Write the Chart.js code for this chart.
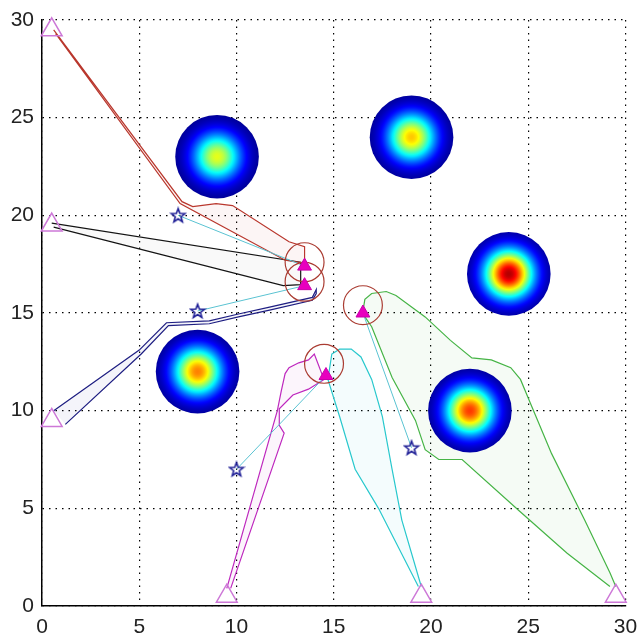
<!DOCTYPE html>
<html>
<head>
<meta charset="utf-8">
<script src="https://cdn.jsdelivr.net/npm/chart.js@4.4.0/dist/chart.umd.min.js"></script>
<style>
  html, body { margin: 0; padding: 0; background: #fff; }
  #wrap { width: 639px; height: 640px; }
</style>
</head>
<body>
<div id="wrap"><canvas id="chart"></canvas></div>
<script>
// axis
const axisTicks = [0, 5, 10, 15, 20, 25, 30];

// gaussian blobs (centre, peak level on jet scale)
const blobX = [9, 19, 24, 8, 22];
const blobY = [23, 24, 17, 12, 10];
const blobPeak = [0.6, 0.68, 0.95, 0.75, 0.82];
const BLOB_R = 2.15;   // data units

// start markers (open triangles)
const startX = [0.5, 0.5, 0.5, 9.5, 19.5, 29.5];
const startY = [29.5, 19.5, 9.5, 0.5, 0.5, 0.5];

// goal markers (filled triangles) and rings round them
const targetX = [13.5, 13.5, 16.5, 14.6];
const targetY = [17.4, 16.4, 15.0, 11.8];
const ringX = [13.5, 13.5, 16.5, 14.5];
const ringY = [17.6, 16.6, 15.4, 12.4];
const RING_R = 1;      // data units

// stars and the goal each one is tied to
const starX = [7, 8, 10, 19];
const starY = [20, 15.1, 7, 8.1];
const starGoal = [0, 1, 3, 2];

// path bands (closed outlines)
const redX = [0.6, 7.2, 7.75, 8.95, 9.8, 12.7, 13.5, 13.5, 12.5, 7.1, 0.7];
const redY = [29.5, 20.7, 20.45, 20.6, 20.5, 18.65, 18.4, 17.55, 17.7, 20.6, 29.3];
const blackX = [0.5, 13.3, 13.3, 12.4, 0.6];
const blackY = [19.6, 17.6, 16.45, 16.4, 19.4];
const blueX = [0.6, 5.0, 6.4, 8.6, 10.1, 11.7, 13.9, 14.1, 14.1, 13.9, 11.7, 10.1, 8.6, 6.5, 5.1, 1.2];
const blueY = [10.0, 13.1, 14.5, 14.6, 14.95, 15.3, 15.8, 16.2, 16.0, 15.65, 15.15, 14.8, 14.45, 14.35, 12.9, 9.3];
const magentaX = [9.5, 12.1, 12.3, 12.5, 12.7, 13.2, 13.7, 14.0, 14.5, 13.7, 12.9, 12.2, 12.2, 12.45, 9.7];
const magentaY = [0.9, 10.0, 11.0, 11.9, 12.2, 12.45, 12.6, 12.9, 11.6, 11.1, 10.8, 10.1, 9.25, 8.85, 0.9];
const cyanX = [19.35, 17.3, 16.1, 15.3, 14.7, 14.9, 15.3, 15.9, 16.4, 16.95, 17.5, 18.0, 18.5, 19.5];
const cyanY = [1.0, 5.0, 7.0, 9.7, 11.6, 12.9, 13.15, 13.15, 12.75, 11.6, 9.7, 7.0, 4.4, 1.0];
const greenX = [29.5, 29.2, 27.9, 26.2, 25.1, 24.6, 24.1, 23.1, 22.1, 21.0, 19.7, 18.2, 17.7, 16.95, 16.6, 16.5,
                16.6, 16.95, 18.0, 19.2, 19.7, 20.4, 21.6, 24.5, 27.0, 29.2];
const greenY = [1.0, 1.7, 4.4, 7.8, 10.4, 11.6, 12.2, 12.6, 12.7, 13.6, 14.8, 15.9, 16.1, 16.0, 15.7, 15.1,
                14.8, 14.3, 11.7, 9.5, 8.0, 7.5, 7.5, 4.9, 2.7, 1.0];

const pts = (xs, ys) => xs.map((x, i) => ({ x: x, y: ys[i] }));

function jet(v) {
    const c = t => Math.round(255 * Math.max(0, Math.min(1, t)));
    return 'rgb(' + c(1.5 - Math.abs(4 * v - 3)) + ',' + c(1.5 - Math.abs(4 * v - 2)) + ',' + c(1.5 - Math.abs(4 * v - 1)) + ')';
}

// pixel length of a data distance along x
function unitPx(chart, d) {
    const s = chart.scales && chart.scales.x;
    if (!s) return 0;
    const v = s.getPixelForValue(d) - s.getPixelForValue(0);
    return isFinite(v) ? v : 0;
}

function blobFill(ctx) {
    if (ctx.type !== 'data') return '#000080';
    const chart = ctx.chart;
    if (!chart.scales || !chart.scales.x || !chart.scales.y) return '#000080';
    const px = chart.scales.x.getPixelForValue(ctx.raw.x);
    const py = chart.scales.y.getPixelForValue(ctx.raw.y);
    const r = unitPx(chart, BLOB_R);
    if (!isFinite(px) || !isFinite(py) || !(r > 0)) return '#000080';
    const peak = blobPeak[ctx.dataIndex];
    const g = chart.ctx.createRadialGradient(px, py, 0, px, py, r);
    for (let i = 0; i <= 24; i++) {
        const t = i / 24;
        g.addColorStop(t, jet(peak * Math.exp(-Math.pow(t / 0.4, 2) / 2)));
    }
    return g;
}

// five-pointed star marker
function pentagram(color) {
    const cv = document.createElement('canvas');
    cv.width = 18; cv.height = 18;
    const c = cv.getContext('2d');
    c.beginPath();
    for (let i = 0; i < 10; i++) {
        const a = -Math.PI / 2 + i * Math.PI / 5;
        const rr = i % 2 ? 3.0 : 7.2;
        const x = 9 + rr * Math.cos(a), y = 9.5 + rr * Math.sin(a);
        if (i === 0) c.moveTo(x, y); else c.lineTo(x, y);
    }
    c.closePath();
    c.strokeStyle = color;
    c.lineWidth = 1.6;
    c.stroke();
    return cv;
}

function band(xs, ys, stroke, fillCol) {
    return {
        data: pts(xs, ys), showLine: true, fill: 'shape', tension: 0,
        borderColor: stroke, backgroundColor: fillCol, borderWidth: 1.2,
        pointRadius: 0, order: 6
    };
}

const datasets = [
    { data: pts(blobX, blobY), showLine: false, order: 0, clip: false,
      pointStyle: 'circle', pointRadius: ctx => unitPx(ctx.chart, BLOB_R),
      pointBackgroundColor: blobFill, pointBorderWidth: 0, pointBorderColor: 'rgba(0,0,0,0)' },
    { data: pts(targetX, targetY), showLine: false, order: 1,
      pointStyle: 'triangle', pointRadius: 8,
      pointBackgroundColor: 'rgb(232,0,190)', pointBorderColor: 'rgb(200,0,170)', pointBorderWidth: 1 },
    { data: pts(starX, starY), showLine: false, order: 2,
      pointStyle: pentagram('rgb(30,30,150)'), pointRadius: 9 },
    { data: pts(ringX, ringY), showLine: false, order: 3,
      pointStyle: 'circle', pointRadius: ctx => unitPx(ctx.chart, RING_R),
      pointBackgroundColor: 'rgba(0,0,0,0)', pointBorderColor: 'rgb(170,60,50)', pointBorderWidth: 1.2 },
    { data: pts(startX, startY), showLine: false, order: 4, clip: false,
      pointStyle: 'triangle', pointRadius: 12,
      pointBackgroundColor: 'rgba(0,0,0,0)', pointBorderColor: 'rgb(205,120,215)', pointBorderWidth: 1.5 },
    band(redX, redY, 'rgb(185,55,45)', 'rgba(200,80,80,0.06)'),
    band(blackX, blackY, 'rgb(20,20,20)', 'rgba(0,0,0,0.025)'),
    band(blueX, blueY, 'rgb(30,30,130)', 'rgba(40,40,160,0.05)'),
    band(magentaX, magentaY, 'rgb(190,40,190)', 'rgba(200,60,200,0.05)'),
    band(cyanX, cyanY, 'rgb(40,200,205)', 'rgba(40,200,210,0.05)'),
    band(greenX, greenY, 'rgb(70,180,70)', 'rgba(80,190,80,0.06)')
];

starX.forEach((sx, i) => {
    const k = starGoal[i];
    datasets.push({
        data: [{ x: sx, y: starY[i] }, { x: targetX[k], y: targetY[k] }],
        showLine: true, tension: 0, fill: false, pointRadius: 0,
        borderColor: 'rgb(90,195,210)', borderWidth: 1, order: 5
    });
});

const tickFont = { family: 'Liberation Sans', size: 21 };

new Chart(document.getElementById('chart'), {
    type: 'line',
    data: { datasets: datasets },
    options: {
        responsive: true,
        maintainAspectRatio: false,
        animation: false,
        events: [],
        layout: { padding: { top: 20, right: 11, left: 0, bottom: 0 } },
        plugins: { legend: { display: false }, tooltip: { enabled: false } },
        scales: {
            x: {
                type: 'linear', min: 0, max: 30,
                afterBuildTicks: s => { s.ticks = axisTicks.map(v => ({ value: v })); },
                afterFit: s => { s.height = 34; s.paddingLeft = 0; s.paddingRight = 0; },
                ticks: { font: tickFont, color: '#222', padding: 9 },
                grid: { color: '#000', lineWidth: 1.2, drawTicks: false },
                border: { display: true, color: '#000', width: 1.5, dash: [1.5, 5] }
            },
            y: {
                type: 'linear', min: 0, max: 30,
                afterBuildTicks: s => { s.ticks = axisTicks.map(v => ({ value: v })); },
                afterFit: s => { s.width = 42; s.paddingTop = 0; s.paddingBottom = 0; },
                ticks: { font: tickFont, color: '#222', padding: 8 },
                grid: { color: '#000', lineWidth: 1.2, drawTicks: false },
                border: { display: true, color: '#000', width: 1.5, dash: [1.5, 5] }
            }
        }
    }
});
</script>
</body>
</html>
